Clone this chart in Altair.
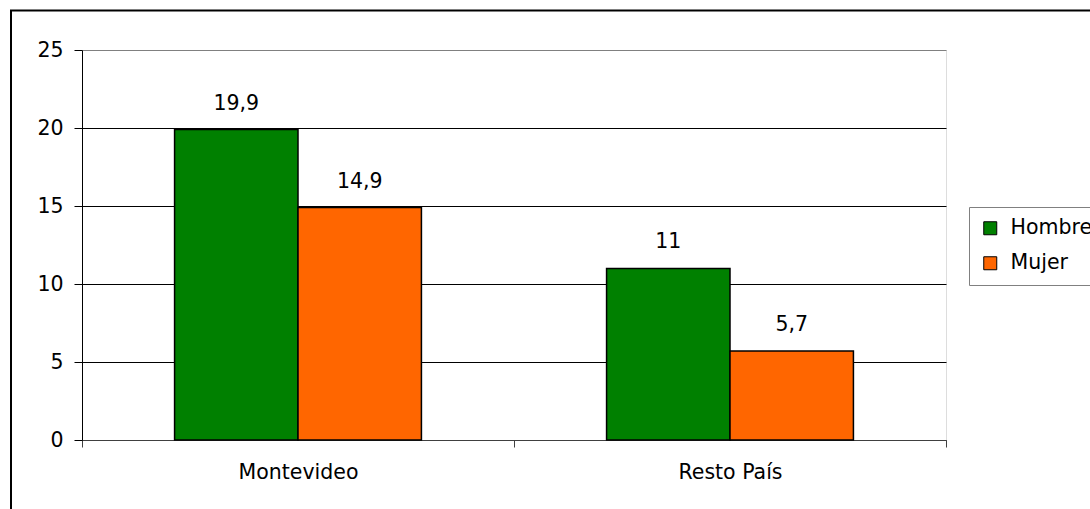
import altair as alt
import pandas as pd

# Categories and series
regions = ["Montevideo", "Resto País"]
sexes = ["Hombre", "Mujer"]
hombre = [19.9, 11.0]
mujer = [14.9, 5.7]
colors = ["#008000", "#FF6600"]

FONT = "DejaVu Sans"
FS = 20.5

rows = []
for i, r in enumerate(regions):
    for s, vals in zip(sexes, [hombre, mujer]):
        v = vals[i]
        rows.append({"region": r, "sexo": s, "valor": v,
                     "etiqueta": f"{v:g}".replace(".", ",")})
df = pd.DataFrame(rows)

W, H = 864, 390

x_enc = alt.X(
    "region:N", sort=regions,
    scale=alt.Scale(paddingInner=0, paddingOuter=0),
    axis=alt.Axis(title=None, labelAngle=0, tickBand="extent", grid=False,
                  domainColor="#404040", tickColor="#404040", tickSize=7,
                  labelFont=FONT, labelFontSize=FS, labelColor="black",
                  labelPadding=15),
)
xoff_enc = alt.XOffset("sexo:N", sort=sexes,
                       scale=alt.Scale(paddingInner=0, paddingOuter=0.75))
y_enc = alt.Y(
    "valor:Q",
    scale=alt.Scale(domain=[0, 25], nice=False),
    axis=alt.Axis(title=None, values=[0, 5, 10, 15, 20, 25],
                  grid=True,
                  gridColor={"condition": {"test": "datum.value === 25",
                                           "value": "#808080"},
                             "value": "black"},
                  domainColor="black", tickColor="black", tickSize=8,
                  labelFont=FONT, labelFontSize=FS, labelColor="black",
                  labelPadding=11),
)

base = alt.Chart(df)

bars = base.mark_bar(stroke="black", strokeWidth=1.5).encode(
    x=x_enc, xOffset=xoff_enc, y=y_enc,
    color=alt.Color("sexo:N", sort=sexes,
                    scale=alt.Scale(domain=sexes, range=colors),
                    legend=alt.Legend(title=None, orient="none",
                                      legendX=887, legendY=157,
                                      strokeColor="#808080", fillColor="white",
                                      padding=11, symbolType="square",
                                      symbolSize=169, symbolStrokeColor="black",
                                      symbolStrokeWidth=1, labelFont=FONT,
                                      labelFontSize=FS, labelColor="black",
                                      labelOffset=10, rowPadding=14)),
)

labels = base.mark_text(font=FONT, fontSize=FS, color="black",
                        baseline="alphabetic", dy=-20).encode(
    x=alt.X("region:N", sort=regions), xOffset=alt.XOffset("sexo:N", sort=sexes),
    y="valor:Q", text="etiqueta:N",
)

# Outer chart frame
frame = alt.Chart(alt.Data(values=[{}])).mark_rect(
    fillOpacity=0, stroke="black", strokeWidth=2
).encode(x=alt.value(-71), x2=alt.value(1040), y=alt.value(-39.5), y2=alt.value(520))

chart = alt.layer(frame, bars, labels).properties(
    width=W, height=H,
    autosize=alt.AutoSizeParams(type="none"),
    padding={"left": 82, "top": 50, "right": 144, "bottom": 69},
).configure_view(stroke="#808080", strokeWidth=1.5).configure(background="white")

chart.save("out.html", embed_options={"renderer": "svg", "actions": False})
